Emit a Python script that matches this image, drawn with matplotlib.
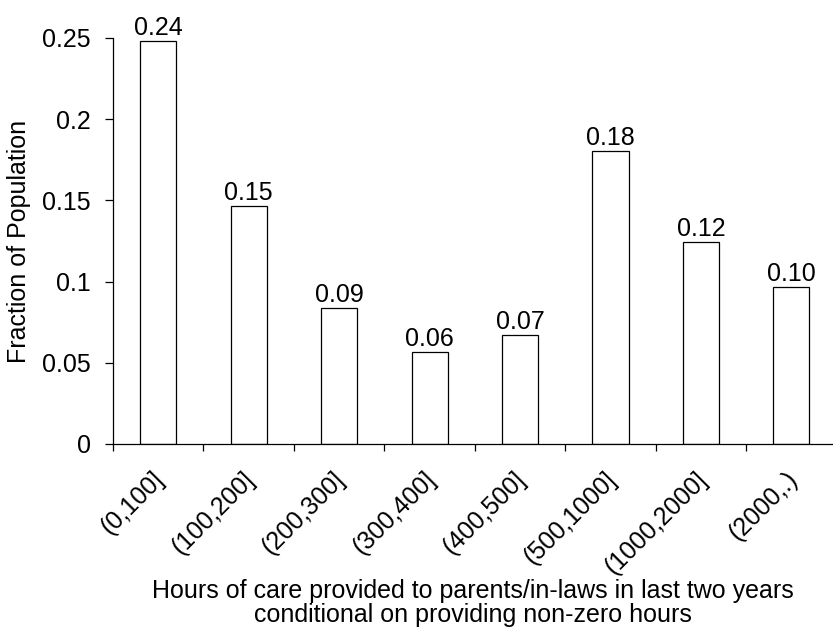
import numpy as np
import matplotlib.pyplot as plt
from matplotlib.transforms import ScaledTranslation

plt.rcParams['font.family'] = ['Liberation Sans', 'DejaVu Sans']

categories = ['(0,100]', '(100,200]', '(200,300]', '(300,400]',
              '(400,500]', '(500,1000]', '(1000,2000]', '(2000,.)']
fractions = [0.248, 0.1465, 0.0835, 0.0564, 0.0669, 0.1804, 0.1243, 0.0967]
bar_labels = ['0.24', '0.15', '0.09', '0.06', '0.07', '0.18', '0.12', '0.10']

FS = 18

fig = plt.figure(figsize=(8.33, 6.28), dpi=100)
ax = fig.add_axes([0.1357, 0.293, 0.8643, 0.6465])

x_pos = np.arange(len(categories))
bars = ax.bar(x_pos, fractions, width=0.4, color='white', edgecolor='black', linewidth=0.9)

for rect, lab in zip(bars, bar_labels):
    ax.annotate(lab, (rect.get_x() + rect.get_width() / 2, rect.get_height()),
                xytext=(0, 1), textcoords='offset points', ha='center', va='bottom',
                fontsize=FS, clip_on=False)

ax.set_ylim(0, 0.25)
ax.set_yticks([0, 0.05, 0.1, 0.15, 0.2, 0.25])
ax.set_yticklabels(['0', '0.05', '0.1', '0.15', '0.2', '0.25'], fontsize=FS)
ax.set_xlim(-0.5, 7.46)

# boundary ticks (major) and centered category labels (minor)
ax.set_xticks(np.arange(-0.5, 7.0, 1.0))
ax.set_xticklabels([])
ax.set_xticks(x_pos, minor=True)
ax.set_xticklabels(categories, minor=True, rotation=45, ha='right',
                   rotation_mode='anchor', fontsize=FS)
ax.tick_params(axis='x', which='minor', length=0, pad=12)
ax.tick_params(axis='x', which='major', direction='out', length=5, width=0.9)
ax.tick_params(axis='y', direction='out', length=6, width=0.9, pad=10)

# nudge rotated labels a little down-left
shift = ScaledTranslation(-4.5 / 72, -4.5 / 72, fig.dpi_scale_trans)
for lab in ax.xaxis.get_minorticklabels():
    lab.set_transform(lab.get_transform() + shift)

for side in ['top', 'right']:
    ax.spines[side].set_visible(False)
for side in ['left', 'bottom']:
    ax.spines[side].set_linewidth(0.9)

ax.set_ylabel('Fraction of Population', fontsize=FS, labelpad=8)
fig.text(0.568, 0.04, 'Hours of care provided to parents/in-laws in last two years\nconditional on providing non-zero hours',
         ha='center', va='center', fontsize=FS, linespacing=1.0)

fig.savefig('out.png', dpi=100)
